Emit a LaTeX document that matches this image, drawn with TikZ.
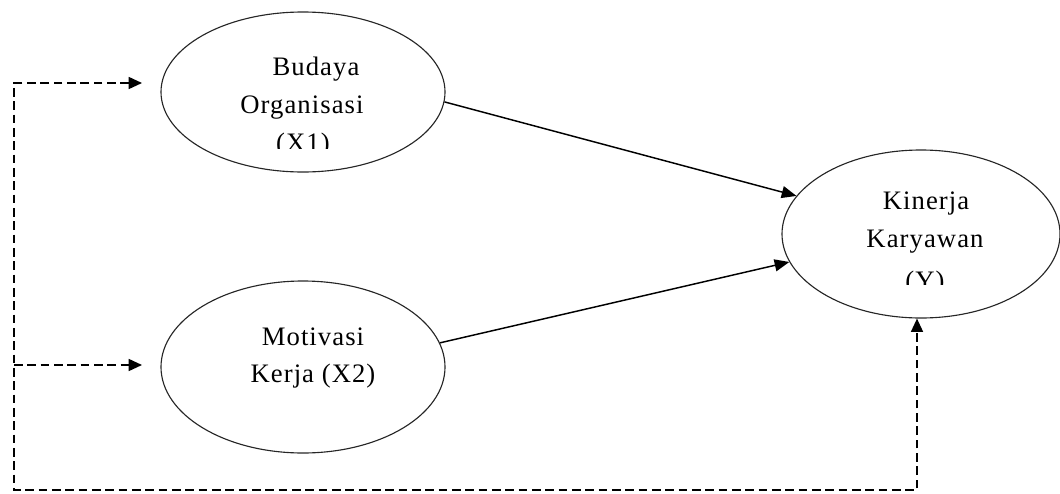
\documentclass[tikz,border=0pt]{standalone}
\usepackage{fontspec}
\setmainfont[LetterSpace=4]{Liberation Serif}
\usetikzlibrary{arrows.meta,shapes.geometric}
\begin{document}
\begin{tikzpicture}[x=0.75pt,y=-0.75pt,
  var/.style={draw=black!85, line width=0.85pt, ellipse, inner sep=0pt},
  lbl/.style={font=\fontsize{20}{24}\selectfont, anchor=base, inner sep=0pt},
  effect/.style={line width=1.1pt, -{Triangle[length=11pt,width=9pt]}},
  moder/.style={line width=1.2pt, dash pattern=on 6.5pt off 3.5pt}
]
\useasboundingbox (0,0) rectangle (1060,493);
% ellipses
\node[var, minimum width=213pt, minimum height=120pt] (X1) at (303,92) {};
\node[var, minimum width=213pt, minimum height=129pt] (X2) at (303,367) {};
\node[var, minimum width=208.5pt, minimum height=126pt] (Y) at (921,234) {};
% labels
\node[lbl] (x1a) at (316,75) {Budaya};
\node[lbl] (x1b) at (302,113) {Organisasi};
\begin{scope}
  \clip (250,120) rectangle (360,148);
  \node[lbl] (x1c) at (303,151) {(X1)};
\end{scope}
\node[lbl] (x2a) at (313,345) {Motivasi};
\node[lbl] (x2b) at (313,382) {Kerja (X2)};
\node[lbl] (ya) at (926,209) {Kinerja};
\node[lbl] (yb) at (925,247) {Karyawan};
\begin{scope}
  \clip (880,255) rectangle (970,284);
  \node[lbl] (yc) at (925,289) {(Y)};
\end{scope}
% direct effects
\draw[effect] (X1.-4.7) -- (Y.163);
\draw[effect] (X2.10) -- (Y.192.7);
% dashed simultaneous path
\coordinate (c1) at (14,83);
\coordinate (t1) at (142,83);
\coordinate (c2) at (14,365);
\coordinate (t2) at (142,365);
\coordinate (c3) at (14,490);
\coordinate (c4) at (917,490);
\draw[moder, {Triangle[length=10pt,width=9pt]}-{Triangle[length=10pt,width=9pt]}] (t1) -- (c1) -- (c3) -- (c4) -- (c4 |- Y.south);
\draw[moder, -{Triangle[length=10pt,width=9pt]}] (c2) -- (t2);
\end{tikzpicture}
\end{document}
